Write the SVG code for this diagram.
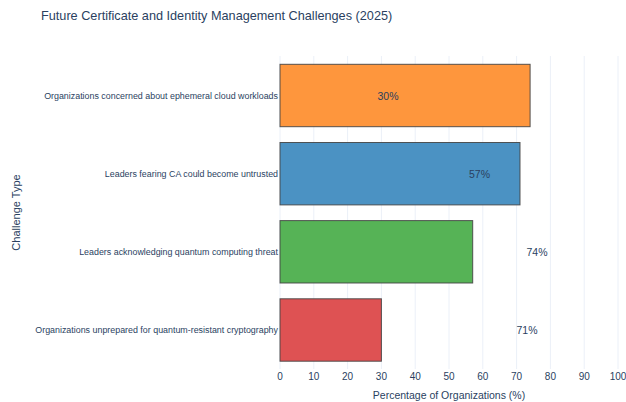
<svg xmlns="http://www.w3.org/2000/svg" width="626" height="402" viewBox="0 0 626 402">
<style>
text{font-family:"Liberation Sans",Arial,sans-serif;fill:#2a3f5f}
.grid{stroke:#ebf0f8;stroke-width:1}
.bar{stroke:#444;stroke-opacity:0.9;stroke-width:1}
.tick{font-size:10px;text-anchor:middle}
.cat{font-size:8.9px;text-anchor:end}
.val{font-size:10.5px;text-anchor:middle}
</style>
<rect width="626" height="402" fill="#fff"/>
<text x="41" y="20" style="font-size:12.7px">Future Certificate and Identity Management Challenges (2025)</text>
<g id="grid">
<line class="grid" x1="313.8" y1="56" x2="313.8" y2="369"/>
<line class="grid" x1="347.6" y1="56" x2="347.6" y2="369"/>
<line class="grid" x1="381.4" y1="56" x2="381.4" y2="369"/>
<line class="grid" x1="415.2" y1="56" x2="415.2" y2="369"/>
<line class="grid" x1="449" y1="56" x2="449" y2="369"/>
<line class="grid" x1="482.8" y1="56" x2="482.8" y2="369"/>
<line class="grid" x1="516.6" y1="56" x2="516.6" y2="369"/>
<line class="grid" x1="550.4" y1="56" x2="550.4" y2="369"/>
<line class="grid" x1="584.2" y1="56" x2="584.2" y2="369"/>
<line class="grid" x1="618" y1="56" x2="618" y2="369"/>
<line class="grid" x1="280" y1="56" x2="280" y2="369"/>
</g>
<g id="bar-ephemeral">
<rect class="bar" x="280" y="64.3" width="250.1" height="62.4" fill="#fe963d"/>
<text class="val" x="388" y="99.5">30%</text>
</g>
<g id="bar-ca">
<rect class="bar" x="280" y="142.5" width="240" height="62.4" fill="#4b92c3"/>
<text class="val" x="479.5" y="177.5">57%</text>
</g>
<g id="bar-quantum">
<rect class="bar" x="280" y="220.6" width="192.7" height="62.4" fill="#56b356"/>
<text class="val" x="537" y="255.5">74%</text>
</g>
<g id="bar-unprepared">
<rect class="bar" x="280" y="298.8" width="101.4" height="62.4" fill="#de5253"/>
<text class="val" x="527" y="333.5">71%</text>
</g>
<g id="y-labels">
<text class="cat" x="278" y="98.7">Organizations concerned about ephemeral cloud workloads</text>
<text class="cat" x="278" y="176.9">Leaders fearing CA could become untrusted</text>
<text class="cat" x="278" y="255">Leaders acknowledging quantum computing threat</text>
<text class="cat" x="278" y="333.2">Organizations unprepared for quantum-resistant cryptography</text>
</g>
<g id="x-ticks">
<text class="tick" x="280" y="380">0</text>
<text class="tick" x="313.8" y="380">10</text>
<text class="tick" x="347.6" y="380">20</text>
<text class="tick" x="381.4" y="380">30</text>
<text class="tick" x="415.2" y="380">40</text>
<text class="tick" x="449" y="380">50</text>
<text class="tick" x="482.8" y="380">60</text>
<text class="tick" x="516.6" y="380">70</text>
<text class="tick" x="550.4" y="380">80</text>
<text class="tick" x="584.2" y="380">90</text>
<text class="tick" x="618" y="380">100</text>
</g>
<text x="449" y="399" style="font-size:10.5px;text-anchor:middle">Percentage of Organizations (%)</text>
<text transform="translate(20,212.5) rotate(-90)" style="font-size:11px;text-anchor:middle">Challenge Type</text>
</svg>
